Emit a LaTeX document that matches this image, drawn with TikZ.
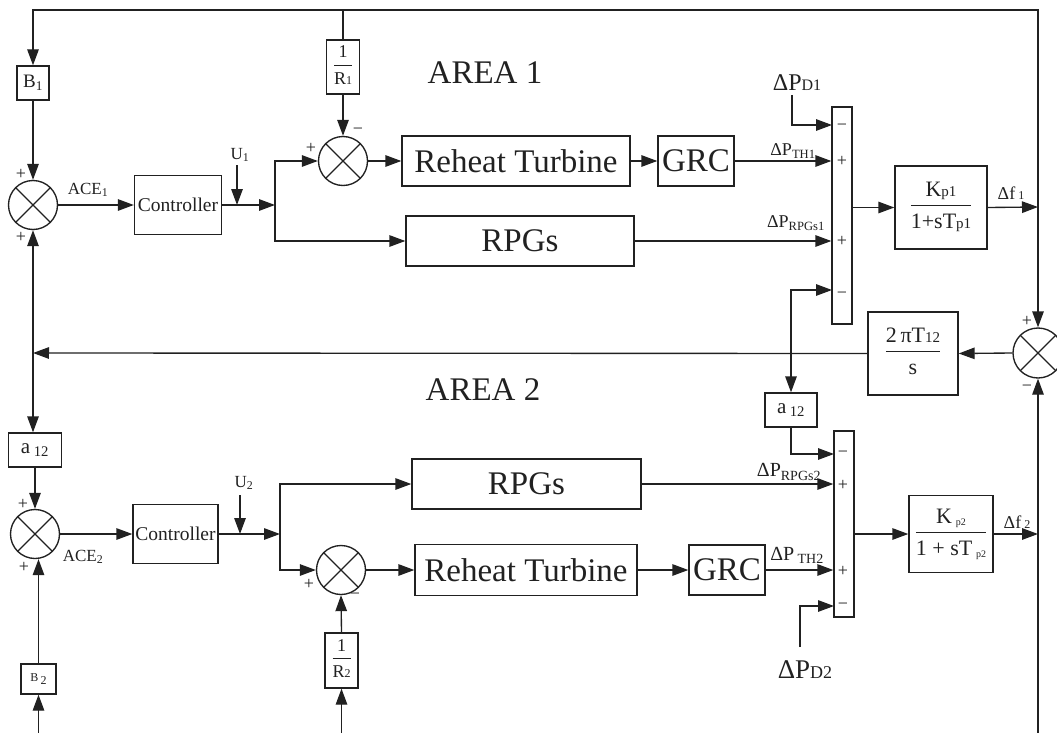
\documentclass[tikz,border=0pt]{standalone}
\usepackage{fontspec}
\setmainfont{Liberation Serif}
\usetikzlibrary{arrows.meta}
\newcommand\fsz[2]{\fontsize{#1}{#2}\selectfont}
\newcommand\fr[2]{\begin{tabular}{@{}c@{}}#1\\[1pt]\hline\rule{0pt}{1.05em}#2\end{tabular}}
\definecolor{ln}{gray}{0.13}
\begin{document}
\begin{tikzpicture}[x=1pt,y=-1pt, line width=1.35pt, draw=ln, text=ln,
 blk/.style={draw, inner sep=0pt, align=center},
 sumc/.style={draw, circle, minimum size=49pt, inner sep=0pt,
   path picture={\draw[line width=1.1pt] (path picture bounding box.north west)--(path picture bounding box.south east) (path picture bounding box.north east)--(path picture bounding box.south west);}},
 arr/.style={-{Triangle[length=16pt,width=11.5pt]}},
 lbl/.style={inner sep=0pt},
 sgn/.style={inner sep=0pt, font=\fsz{18}{20}},
 big/.style={font=\fsz{33}{36}},
]
\useasboundingbox (0,0) rectangle (1057,733);

% ---------- AREA 1 ----------
\node[blk, minimum width=32pt, minimum height=34pt, font=\fsz{19}{21}] (B1) at (33,83) {B\textsubscript{1}};
\node[sumc] (S1) at (33,205) {};
\node[blk, minimum width=87pt, minimum height=59pt, font=\fsz{19.5}{22}] (C1) at (178,205) {Controller};
\coordinate (J1) at (275,205);
\node[lbl, font=\fsz{17}{19}] (U1) at (240,155) {U\textsubscript{1}};
\coordinate (U1a) at (237,165); \coordinate (U1b) at (237,205);
\node[sumc] (S2) at (343,161) {};
\node[blk, minimum width=33pt, minimum height=54pt, font=\fsz{18}{20}] (R1) at (343,67) {\fr{1}{R{\fsz{12}{14}1}}};
\node[blk, big, minimum width=228pt, minimum height=50pt] (RT1) at (516,161) {Reheat Turbine};
\node[blk, big, minimum width=76pt, minimum height=50pt] (G1) at (696,161) {GRC};
\node[blk, big, minimum width=228pt, minimum height=50pt] (P1) at (520,241) {RPGs};
\node[blk, minimum width=20pt, minimum height=217pt] (BAR1) at (842,215.5) {};
\node[blk, minimum width=92pt, minimum height=83pt, font=\fsz{22}{26}] (K1) at (941,207.5) {\fr{K{\fsz{15}{17}p1}}{1+sT{\fsz{15}{17}p1}}};
\node[sumc, minimum size=50pt] (S5) at (1038,353) {};
\node[blk, minimum width=90pt, minimum height=83pt, font=\fsz{22}{26}] (T12) at (913,353.5) {\fr{2\,πT{\fsz{15}{17}12}}{s}};
\node[blk, minimum width=52pt, minimum height=34pt, font=\fsz{21}{23}] (A2) at (791,410) {a\,\textsubscript{12}};

\node[lbl, big] (AR1) at (485,73) {AREA 1};
\node[lbl, big] (AR2) at (483,390) {AREA 2};

\coordinate (TL) at (33,10); \coordinate (TR) at (1038,10); \coordinate (TM) at (343,10);
\coordinate (F1) at (1038,207);
\coordinate (D1) at (792,95);
\coordinate (I1a) at (832,125);
\coordinate (I1d) at (832,290);
\coordinate (TL2) at (33,353);
\coordinate (TM2) at (791,353);

\draw[arr] (K1.east) -- (F1);
\draw[arr] (F1) -- (S5.north);
\draw[arr] (F1) -- (TR) -- (TL) -- (B1.north);
\draw (TM) -- (R1.north);
\draw[arr] (B1.south) -- (S1.north);
\draw[arr] (S1.east) -- (C1.west);
\draw[arr] (C1.east) -- (J1);
\draw[arr] (U1a) -- (U1b);
\draw[arr] (J1) |- (S2.west);
\draw[arr] (J1) |- (P1.west);
\draw[arr] (R1.south) -- (S2.north);
\draw[arr] (S2.east) -- (RT1.west);
\draw[arr] (RT1.east) -- (G1.west);
\draw[arr] (G1.east) -- (G1.east -| BAR1.west);
\draw[arr] (P1.east) -- (P1.east -| BAR1.west);
\draw[arr] (D1) |- (I1a);
\draw[arr] (K1.west -| BAR1.east) -- (K1.west);
\draw[arr] (S5.west) -- (T12.east);
\draw[arr] (T12.west) -- (TL2);
\draw[arr] (TL2) -- (S1.south);
\draw[arr] (TM2) |- (I1d);
\draw[arr] (TM2) -- (A2.north);

% signs area 1
\node[sgn] (s1a) at (21,174) {+};
\node[sgn] (s1b) at (21,237) {+};
\node[sgn] (s2a) at (311,148) {+};
\node[sgn] (s2b) at (358,131) {−};
\node[sgn] (b1a) at (842,127) {−};
\node[sgn] (b1b) at (842,161) {+};
\node[sgn] (b1c) at (842,241) {+};
\node[sgn] (b1d) at (842,295) {−};
\node[sgn] (s5a) at (1027,321) {+};
\node[sgn] (s5b) at (1027,388) {−};

\node[lbl, font=\fsz{17}{19}] (ACE1) at (88,190) {ACE\textsubscript{1}};
\node[lbl] (LD1) at (797,83) {\fsz{24}{26}ΔP{\fsz{16}{18}D1}};
\node[lbl] (LTH1) at (793,151) {\fsz{18}{20}ΔP\textsubscript{TH1}};
\node[lbl] (LRP1) at (796,223) {\fsz{18}{20}ΔP\textsubscript{RPGs1}};
\node[lbl] (LF1) at (1011,193) {\fsz{18}{20}Δf\,{\fsz{12}{14}1}};

% ---------- AREA 2 ----------
\node[blk, minimum width=53pt, minimum height=34pt, font=\fsz{21}{23}] (A1) at (35,450) {a\,\textsubscript{12}};
\node[sumc] (S3) at (35,534) {};
\node[blk, minimum width=85pt, minimum height=59pt, font=\fsz{19.5}{22}] (C2) at (175.5,534) {Controller};
\coordinate (J2) at (280,534);
\node[lbl, font=\fsz{17}{19}] (U2) at (244,483) {U\textsubscript{2}};
\coordinate (U2a) at (240,495); \coordinate (U2b) at (240,534);
\node[sumc] (S4) at (341,570) {};
\node[blk, big, minimum width=229pt, minimum height=50pt] (P2) at (526.5,484) {RPGs};
\node[blk, big, minimum width=222pt, minimum height=51pt] (RT2) at (526,570) {Reheat Turbine};
\node[blk, big, minimum width=76pt, minimum height=50pt] (G2) at (727,570) {GRC};
\node[blk, minimum width=20pt, minimum height=186pt] (BAR2) at (844,524) {};
\node[blk, minimum width=84pt, minimum height=77pt, font=\fsz{22}{26}] (K2) at (951,534) {\fr{K\,{\fsz{10}{12}\raisebox{-2pt}{p2}}}{1 + sT\,{\fsz{10}{12}\raisebox{-2pt}{p2}}}};
\node[blk, minimum width=33pt, minimum height=55pt, font=\fsz{18}{20}] (R2) at (341.5,660.5) {\fr{1}{R{\fsz{12}{14}2}}};
\node[blk, minimum width=35pt, minimum height=30pt, font=\fsz{12}{14}] (B2) at (38.5,679) {B\,\raisebox{-3pt}{2}};

\coordinate (R2b) at (341.5,733);
\coordinate (B2b) at (38.5,733);
\coordinate (D2) at (800,647);
\coordinate (I2a) at (834,454);
\coordinate (I2d) at (834,606);
\coordinate (F2) at (1038,534);
\coordinate (BR) at (1038,733);

\draw[arr] (TL2) -- (TL2 |- A1.north);
\draw[arr] (A1.south) -- (S3.north);
\draw[arr] (S3.east) -- (C2.west);
\draw[arr] (C2.east) -- (J2);
\draw[arr] (U2a) -- (U2b);
\draw[arr] (J2) |- (P2.west);
\draw[arr] (J2) |- (S4.west);
\draw[arr] (R2.north) -- (S4.south);
\draw[arr] (R2b) -- (R2.south);
\draw[arr] (B2b) -- (B2.south);
\draw[arr] (B2.north) -- (B2.north |- S3.south);
\draw[arr] (S4.east) -- (RT2.west);
\draw[arr] (RT2.east) -- (G2.west);
\draw[arr] (G2.east) -- (G2.east -| BAR2.west);
\draw[arr] (P2.east) -- (P2.east -| BAR2.west);
\draw[arr] (A2.south) |- (I2a);
\draw[arr] (D2) |- (I2d);
\draw[arr] (K2.west -| BAR2.east) -- (K2.west);
\draw[arr] (K2.east) -- (F2);
\draw[arr] (BR) -- (S5.south);

% signs area 2
\node[sgn] (s3a) at (23,504) {+};
\node[sgn] (s3b) at (24,567) {+};
\node[sgn] (s4a) at (309,584) {+};
\node[sgn] (s4b) at (355,596) {−};
\node[sgn] (b2a) at (843,454) {−};
\node[sgn] (b2b) at (843,485) {+};
\node[sgn] (b2c) at (843,571) {+};
\node[sgn] (b2d) at (843,606) {−};

\node[lbl, font=\fsz{17}{19}] (ACE2) at (83,557) {ACE\textsubscript{2}};
\node[lbl] (LRP2) at (789,472) {\fsz{20}{22}ΔP\textsubscript{RPGs2}};
\node[lbl] (LTH2) at (797,555) {\fsz{20}{22}ΔP\,\textsubscript{TH2}};
\node[lbl] (LD2) at (805,670) {\fsz{27}{30}ΔP{\fsz{18}{20}D2}};
\node[lbl] (LF2) at (1017,522) {\fsz{18}{20}Δf\,{\fsz{12}{14}2}};
\end{tikzpicture}
\end{document}
